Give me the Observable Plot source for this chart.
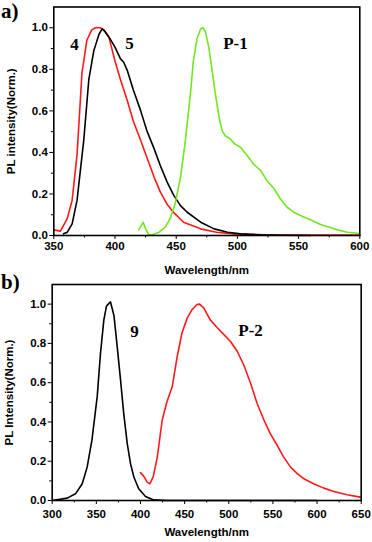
<!DOCTYPE html>
<html>
<head>
<meta charset="utf-8">
<script src="https://cdn.jsdelivr.net/npm/d3@7"></script>
<script src="https://cdn.jsdelivr.net/npm/@observablehq/plot@0.6"></script>
<style>
  html, body { margin: 0; padding: 0; background: #fff; }
  #wrap { position: relative; width: 372px; height: 542px; overflow: hidden; }
  #pa, #pb { position: absolute; left: 0; }
  #pa { top: 0; z-index: 2; }
  #pb { top: 270px; z-index: 1; }
  svg { overflow: visible; }
  .lbl { position: absolute; font-family: "Liberation Serif", serif; font-weight: bold; font-size: 21px; line-height: 1; z-index: 3; }
</style>
</head>
<body>
<div id="wrap">
  <div id="pa"></div>
  <div id="pb"></div>
  <div class="lbl" style="left:1px; top:1px;">a)</div>
  <div class="lbl" style="left:1px; top:272px;">b)</div>
</div>
<script>
// ---------- Panel a data ----------
const a4_x = [350, 355.4, 360.9, 365, 369, 373, 377, 381, 384, 388, 391, 395, 400, 404.5, 410, 415, 421, 426, 432, 437, 442.6, 448, 456, 470, 483, 497, 524, 560, 600];
const a4_y = [0.027, 0.021, 0.08, 0.17, 0.39, 0.78, 0.94, 0.99, 1.0, 1.0, 0.99, 0.955, 0.84, 0.75, 0.65, 0.55, 0.457, 0.377, 0.28, 0.21, 0.15, 0.11, 0.064, 0.032, 0.016, 0.008, 0.003, 0.002, 0.002];

const a5_x = [358, 361, 365, 369, 374.5, 378.6, 382.7, 387, 389.5, 392, 396, 400, 404.5, 407, 410, 415, 421, 426, 432, 437, 442.6, 448, 453.5, 459, 470, 481, 492, 502.5, 519, 538, 560];
const a5_y = [0.008, 0.016, 0.056, 0.17, 0.46, 0.75, 0.89, 0.97, 0.995, 0.98, 0.947, 0.907, 0.85, 0.835, 0.795, 0.70, 0.60, 0.505, 0.417, 0.337, 0.257, 0.193, 0.144, 0.112, 0.064, 0.032, 0.016, 0.008, 0.003, 0.001, 0.0];

const p1_x = [419.4, 423, 425, 427.6, 430, 436, 441, 445, 449, 453.5, 457.5, 461.6, 464, 467, 470, 472, 474, 476.6, 479, 482, 485, 487.5, 490, 494, 498, 502.5, 508, 513, 519, 524, 530, 535, 540.6, 546, 551.5, 560, 568, 579, 589.6, 599];
const p1_y = [0.027, 0.064, 0.032, 0.003, 0.003, 0.016, 0.04, 0.08, 0.15, 0.28, 0.457, 0.68, 0.84, 0.947, 0.995, 1.0, 0.98, 0.907, 0.81, 0.68, 0.57, 0.505, 0.48, 0.466, 0.44, 0.425, 0.385, 0.345, 0.313, 0.265, 0.225, 0.177, 0.136, 0.112, 0.096, 0.075, 0.053, 0.032, 0.016, 0.011];

// ---------- Panel b data ----------
const b9_x = [300, 317, 326.4, 334, 339.6, 345, 351, 354.7, 358.5, 361.5, 366, 370, 373.6, 377.4, 381, 385, 388.7, 392.5, 398, 405.7, 415, 430, 600];
const b9_y = [0.0, 0.012, 0.034, 0.085, 0.17, 0.307, 0.53, 0.75, 0.92, 0.99, 1.012, 0.94, 0.785, 0.614, 0.444, 0.29, 0.188, 0.12, 0.06, 0.02, 0.003, 0.0, 0.0];

const p2_x = [400, 403.8, 407.6, 410.6, 414.4, 419, 424.6, 430, 436, 441.6, 447, 453, 458.6, 464, 467, 471.8, 479, 487, 494.5, 502, 509.6, 517, 524.7, 532, 539.8, 547, 555, 562, 570, 577.5, 585, 596, 607.7, 619, 634, 649];
const p2_y = [0.142, 0.123, 0.094, 0.085, 0.12, 0.22, 0.41, 0.503, 0.58, 0.734, 0.853, 0.93, 0.973, 0.998, 1.0, 0.98, 0.92, 0.88, 0.845, 0.81, 0.76, 0.69, 0.597, 0.495, 0.41, 0.341, 0.28, 0.222, 0.17, 0.137, 0.111, 0.085, 0.063, 0.046, 0.029, 0.017];

// ---------- Ticks and labels ----------
const xTicksA = [350, 400, 450, 500, 550, 600];
const xMinorA = [375, 425, 475, 525, 575];
const xTicksB = [300, 350, 400, 450, 500, 550, 600, 650];
const xMinorB = [325, 375, 425, 475, 525, 575, 625];
const yTicks = [0, 0.2, 0.4, 0.6, 0.8, 1.0];
const yMinor = [0.1, 0.3, 0.5, 0.7, 0.9];

const annA_text = ["4", "5", "P-1"];
const annA_x = [367, 411.8, 498.4];
const annA_y = [0.92, 0.923, 0.923];
const annB_text = ["9", "P-2"];
const annB_x = [393.3, 524.7];
const annB_y = [0.862, 0.865];

const RED = "#ff1a1a";
const GREEN = "#72e61e";

const toRows = (xs, ys) => xs.map((x, i) => ({x, y: ys[i]}));

function panel({xDomain, xTicks, xMinor, series, ann, ylabel, height, mt, mb, ml, mr, tickPad, xlabelOffset}) {
  const marks = [];
  for (const s of series) {
    marks.push(Plot.line(toRows(s.x, s.y), {x: "x", y: "y", stroke: s.color, strokeWidth: 1.6, curve: "linear"}));
  }
  marks.push(Plot.text(ann.text.map((t, i) => ({t, x: ann.x[i], y: ann.y[i]})), {
    x: "x", y: "y", text: "t", fontFamily: "Liberation Serif", fontWeight: "bold", fontSize: 17, fill: "black"
  }));
  marks.push(Plot.axisX(xTicks, {tickSize: 4, tickPadding: tickPad, fontSize: 11.5, fontWeight: "bold",
    label: "Wavelength/nm", labelAnchor: "center", labelOffset: xlabelOffset, labelArrow: "none"}));
  marks.push(Plot.axisX(xMinor, {tickSize: 2.5, tickFormat: () => "", label: null}));
  marks.push(Plot.axisY(yTicks, {tickSize: 4, tickPadding: 2, fontSize: 11.5, fontWeight: "bold",
    tickFormat: d3.format(".1f"), label: ylabel, labelAnchor: "center", labelOffset: 47, labelArrow: "none"}));
  marks.push(Plot.axisY(yMinor, {tickSize: 2.5, tickFormat: () => "", label: null}));
  marks.push(Plot.frame({stroke: "black", strokeWidth: 1.6}));
  return Plot.plot({
    width: 372, height,
    marginTop: mt, marginBottom: mb, marginLeft: ml, marginRight: mr,
    x: {domain: xDomain},
    y: {domain: [0, 1.1]},
    style: {fontFamily: "Liberation Sans, Arial, sans-serif", fontSize: "11.5px", fontWeight: "bold", color: "black", background: "transparent", overflow: "visible"},
    marks
  });
}

const pa = panel({
  xDomain: [350, 600], xTicks: xTicksA, xMinor: xMinorA,
  series: [
    {x: a4_x, y: a4_y, color: RED},
    {x: a5_x, y: a5_y, color: "black"},
    {x: p1_x, y: p1_y, color: GREEN}
  ],
  ann: {text: annA_text, x: annA_x, y: annA_y},
  ylabel: "PL intensity(Norm.)",
  height: 270, mt: 6.5, mb: 35, ml: 53.3, mr: 12.7, tickPad: 2, xlabelOffset: 38
});
document.getElementById("pa").appendChild(pa);

const pb = panel({
  xDomain: [300, 650], xTicks: xTicksB, xMinor: xMinorB,
  series: [
    {x: b9_x, y: b9_y, color: "black"},
    {x: p2_x, y: p2_y, color: RED}
  ],
  ann: {text: annB_text, x: annB_x, y: annB_y},
  ylabel: "PL Intensity(Norm.)",
  height: 272, mt: 14, mb: 42, ml: 51.7, mr: 11.3, tickPad: 5, xlabelOffset: 35
});
document.getElementById("pb").appendChild(pb);
</script>
</body>
</html>
